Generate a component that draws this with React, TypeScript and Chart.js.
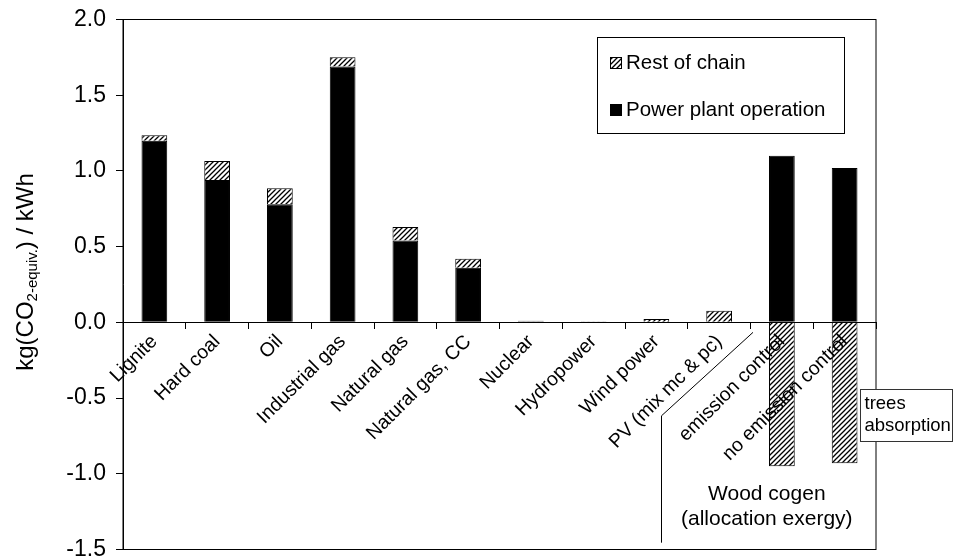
import React, { useEffect, useRef } from 'react';
import { Chart, registerables } from 'chart.js';

Chart.register(...registerables);

// ---------- data ----------
const categories = [
  'Lignite',
  'Hard coal',
  'Oil',
  'Industrial gas',
  'Natural gas',
  'Natural gas, CC',
  'Nuclear',
  'Hydropower',
  'Wind power',
  'PV (mix mc & pc)',
  'emission control',
  'no emission control',
];
const powerPlant = [1.2, 0.94, 0.78, 1.69, 0.54, 0.36, 0.008, 0.003, 0, 0, 1.1, 1.02];
const restOfChain = [0.035, 0.125, 0.105, 0.06, 0.09, 0.06, 0.003, 0.001, 0.022, 0.077, -0.95, -0.93];
const seriesLabels = ['Power plant operation', 'Rest of chain'];
const yMin = -1.5;
const yMax = 2.0;
const yStep = 0.5;
const yTitleParts = ['kg(CO', '2-equiv.', ') / kWh'];
const groupLabel = ['Wood cogen', '(allocation exergy)'];
const treesLabel = ['trees', 'absorption'];

const FONT = "'Liberation Sans', Arial, sans-serif";

function makeHatch(): CanvasPattern {
  const s = 5;
  const c = document.createElement('canvas');
  c.width = s;
  c.height = s;
  const g = c.getContext('2d')!;
  g.fillStyle = '#fff';
  g.fillRect(0, 0, s, s);
  g.strokeStyle = '#000';
  g.lineWidth = 1.3;
  g.beginPath();
  g.moveTo(-1, s + 1);
  g.lineTo(s + 1, -1);
  g.moveTo(-1, 1);
  g.lineTo(1, -1);
  g.moveTo(s - 1, s + 1);
  g.lineTo(s + 1, s - 1);
  g.stroke();
  return g.createPattern(c, 'repeat')!;
}

function zeroPad(s: any) {
  s.paddingTop = 0;
  s.paddingBottom = 0;
  s.paddingLeft = 0;
  s.paddingRight = 0;
}

export default function App() {
  const ref = useRef<HTMLCanvasElement | null>(null);

  useEffect(() => {
    const canvas = ref.current;
    if (!canvas) return;
    const hatch = makeHatch();

    const framePlugin = {
      id: 'frameAndAnnotations',
      afterDraw(chart: any) {
        const { ctx, chartArea: a, scales } = chart;
        const xs = scales.x;
        const ys = scales.y;
        ctx.save();
        // plot frame
        ctx.strokeStyle = '#000';
        ctx.lineWidth = 1;
        ctx.strokeRect(a.left, a.top, a.right - a.left, a.bottom - a.top);

        // wood cogen group outline
        const gx = Math.round(xs.getPixelForValue(8.07)) + 0.5;
        const gyTop = ys.getPixelForValue(-0.617);
        const gyBot = ys.getPixelForValue(-1.455);
        const dx = xs.getPixelForValue(9.54);
        const dy = ys.getPixelForValue(-0.066);
        ctx.beginPath();
        ctx.moveTo(gx, gyBot);
        ctx.lineTo(gx, gyTop);
        ctx.lineTo(dx, dy);
        ctx.stroke();

        ctx.fillStyle = '#000';
        ctx.font = `21px ${FONT}`;
        ctx.textAlign = 'center';
        ctx.textBaseline = 'middle';
        const cx = xs.getPixelForValue(9.76);
        ctx.fillText(groupLabel[0], cx, ys.getPixelForValue(-1.137));
        ctx.fillText(groupLabel[1], cx, ys.getPixelForValue(-1.303));

        // trees absorption box
        const bl = Math.round(xs.getPixelForValue(11.245)) + 0.5;
        const br = Math.round(xs.getPixelForValue(12.71)) + 0.5;
        const bt = Math.round(ys.getPixelForValue(-0.438)) + 0.5;
        const bb = Math.round(ys.getPixelForValue(-0.781)) + 0.5;
        ctx.fillStyle = '#fff';
        ctx.fillRect(bl, bt, br - bl, bb - bt);
        ctx.strokeStyle = '#333';
        ctx.strokeRect(bl, bt, br - bl, bb - bt);
        ctx.fillStyle = '#000';
        ctx.font = `18.5px ${FONT}`;
        ctx.textAlign = 'left';
        ctx.fillText(treesLabel[0], bl + 4, bt + 14);
        ctx.fillText(treesLabel[1], bl + 4, bt + 36);

        // legend
        const lx = 597.5;
        const lt = 37.5;
        const lr = 844.5;
        const lb = 133.5;
        ctx.fillStyle = '#fff';
        ctx.fillRect(lx, lt, lr - lx, lb - lt);
        ctx.strokeStyle = '#000';
        ctx.strokeRect(lx, lt, lr - lx, lb - lt);
        const rows = [
          { label: seriesLabels[1], fill: hatch, y: 63 },
          { label: seriesLabels[0], fill: '#000', y: 110 },
        ];
        ctx.font = `20.5px ${FONT}`;
        ctx.textAlign = 'left';
        ctx.textBaseline = 'middle';
        for (const r of rows) {
          ctx.fillStyle = r.fill as any;
          ctx.fillRect(610, r.y - 6, 12, 12);
          ctx.strokeStyle = '#000';
          ctx.strokeRect(610.5, r.y - 5.5, 11, 11);
          ctx.fillStyle = '#000';
          ctx.fillText(r.label, 626, r.y);
        }

        // y axis title with subscript
        const big = 24;
        const small = 15;
        ctx.font = `${big}px ${FONT}`;
        const w0 = ctx.measureText(yTitleParts[0]).width;
        const w2 = ctx.measureText(yTitleParts[2]).width;
        ctx.font = `${small}px ${FONT}`;
        const w1 = ctx.measureText(yTitleParts[1]).width;
        const total = w0 + w1 + w2;
        ctx.translate(33, 272);
        ctx.rotate(-Math.PI / 2);
        ctx.textBaseline = 'alphabetic';
        ctx.textAlign = 'left';
        let x0 = -total / 2;
        ctx.font = `${big}px ${FONT}`;
        ctx.fillText(yTitleParts[0], x0, 0);
        x0 += w0;
        ctx.font = `${small}px ${FONT}`;
        ctx.fillText(yTitleParts[1], x0, 4);
        x0 += w1;
        ctx.font = `${big}px ${FONT}`;
        ctx.fillText(yTitleParts[2], x0, 0);
        ctx.restore();
      },
    };

    const chart = new Chart(canvas, {
      type: 'bar',
      data: {
        labels: categories,
        datasets: [
          {
            label: seriesLabels[0],
            data: powerPlant,
            backgroundColor: '#000',
            borderColor: '#000',
            borderWidth: 1,
            barPercentage: 0.41,
            categoryPercentage: 1,
          },
          {
            label: seriesLabels[1],
            data: restOfChain,
            backgroundColor: hatch as any,
            borderColor: '#000',
            borderWidth: 1,
            barPercentage: 0.41,
            categoryPercentage: 1,
          },
        ],
      },
      options: {
        responsive: false,
        animation: false,
        events: [],
        layout: { padding: { left: 0, top: 19.5, right: 77, bottom: 9.5 } },
        plugins: {
          legend: { display: false },
          tooltip: { enabled: false },
          title: { display: false },
        },
        scales: {
          x: {
            type: 'category',
            stacked: true,
            position: { y: 0 } as any,
            offset: true,
            grid: {
              display: true,
              offset: true,
              drawOnChartArea: false,
              drawTicks: true,
              tickLength: 6,
              color: '#000',
              lineWidth: 1,
              z: 1,
            } as any,
            border: { display: true, color: '#000', width: 1, z: 1 } as any,
            ticks: {
              autoSkip: false,
              maxRotation: 45,
              minRotation: 45,
              padding: 2,
              color: '#000',
              z: 1,
              font: { family: FONT, size: 19.5 },
            } as any,
            afterFit: (s: any) => {
              s.height = 0;
              zeroPad(s);
            },
          },
          y: {
            type: 'linear',
            stacked: true,
            position: 'left',
            min: yMin,
            max: yMax,
            grid: {
              drawOnChartArea: false,
              drawTicks: true,
              tickLength: 7,
              color: '#000',
            },
            border: { display: true, color: '#000', width: 1 },
            ticks: {
              stepSize: yStep,
              padding: 10,
              color: '#000',
              font: { family: FONT, size: 23 },
              callback: (v: any) => Number(v).toFixed(1),
            },
            afterFit: (s: any) => {
              s.width = 123;
              zeroPad(s);
            },
          },
        },
      },
      plugins: [framePlugin],
    });

    return () => chart.destroy();
  }, []);

  return (
    <div style={{ position: 'absolute', left: 0, top: 0, width: 953, height: 559, background: '#fff' }}>
      <canvas ref={ref} width={953} height={559} style={{ display: 'block' }} />
    </div>
  );
}
